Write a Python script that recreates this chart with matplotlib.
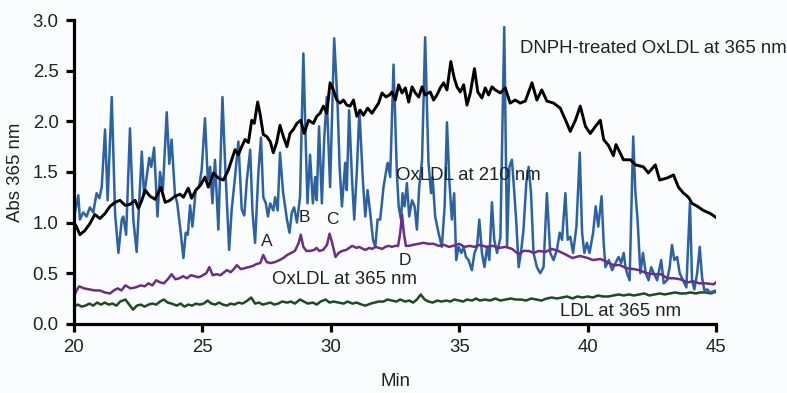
import matplotlib.pyplot as plt

# OxLDL at 210 nm (blue)
blue_x = [20.00, 20.17, 20.23, 20.36, 20.49, 20.62, 20.75, 20.88, 20.99, 21.08, 21.21, 21.31, 21.47, 21.60,
          21.73, 21.86, 21.92, 22.03, 22.18, 22.31, 22.44, 22.64, 22.73, 22.83, 22.93, 23.01, 23.12, 23.25,
          23.35, 23.46, 23.61, 23.71, 23.80, 23.93, 24.02, 24.13, 24.26, 24.35, 24.43, 24.52, 24.61, 24.74,
          24.87, 24.97, 25.10, 25.21, 25.30, 25.39, 25.49, 25.62, 25.78, 25.88, 26.04, 26.14, 26.27, 26.40,
          26.53, 26.63, 26.73, 26.86, 26.95, 27.05, 27.18, 27.28, 27.37, 27.47, 27.55, 27.64, 27.76, 27.83,
          27.93, 28.02, 28.14, 28.22, 28.29, 28.39, 28.48, 28.57, 28.68, 28.80, 28.93, 29.04, 29.09, 29.19,
          29.30, 29.39, 29.45, 29.54, 29.65, 29.74, 29.84, 29.97, 30.13, 30.26, 30.34, 30.43, 30.56, 30.62,
          30.71, 30.82, 30.91, 31.01, 31.11, 31.25, 31.34, 31.43, 31.53, 31.64, 31.73, 31.82, 31.92, 32.05,
          32.18, 32.22, 32.31, 32.44, 32.57, 32.64, 32.73, 32.79, 32.87, 32.96, 33.05, 33.16, 33.26, 33.35,
          33.44, 33.55, 33.67, 33.80, 33.90, 33.96, 34.06, 34.19, 34.32, 34.43, 34.52, 34.61, 34.71, 34.80,
          34.88, 34.97, 35.08, 35.17, 35.26, 35.36, 35.49, 35.59, 35.69, 35.78, 35.88, 35.98, 36.08, 36.17,
          36.27, 36.36, 36.47, 36.60, 36.75, 36.86, 36.95, 37.05, 37.14, 37.22, 37.31, 37.40, 37.50, 37.61,
          37.70, 37.79, 37.89, 38.02, 38.15, 38.28, 38.41, 38.54, 38.67, 38.80, 38.91, 39.00, 39.13, 39.22,
          39.32, 39.43, 39.56, 39.69, 39.78, 39.87, 39.97, 40.07, 40.21, 40.31, 40.41, 40.54, 40.62, 40.69,
          40.82, 40.95, 41.08, 41.20, 41.30, 41.40, 41.47, 41.53, 41.63, 41.77, 41.85, 41.94, 42.05, 42.15,
          42.26, 42.37, 42.47, 42.57, 42.70, 42.86, 42.96, 43.09, 43.19, 43.28, 43.37, 43.48, 43.58, 43.71,
          43.84, 43.98, 44.06, 44.15, 44.26, 44.36, 44.45, 44.54, 44.65, 44.77, 45.00]
blue_y = [1.05, 1.27, 1.03, 1.10, 1.06, 1.15, 1.10, 1.29, 1.24, 1.35, 1.92, 1.22, 2.24, 1.09,
          0.70, 1.03, 1.06, 0.88, 1.93, 1.03, 0.71, 1.70, 1.27, 1.45, 1.64, 1.55, 1.74, 1.06,
          1.50, 1.32, 2.09, 1.58, 1.82, 1.28, 1.19, 0.96, 0.65, 0.90, 0.88, 1.17, 0.96, 1.32,
          1.35, 1.52, 2.03, 1.42, 1.55, 1.19, 1.62, 0.93, 2.24, 1.60, 0.73, 1.13, 1.45, 1.80,
          1.13, 1.07, 1.42, 1.72, 1.10, 0.80, 1.50, 1.84, 1.25, 1.19, 1.06, 1.19, 1.12, 1.25,
          1.12, 1.69, 1.30, 1.16, 1.03, 0.90, 1.10, 1.15, 1.00, 1.25, 2.67, 1.62, 1.19, 1.67,
          1.19, 1.45, 1.22, 1.95, 1.19, 1.82, 2.24, 1.35, 2.82, 2.18, 1.55, 1.16, 1.59, 1.32,
          2.11, 1.45, 1.03, 1.50, 2.11, 1.40, 1.06, 1.32, 1.10, 0.83, 0.76, 1.03, 1.03, 1.35,
          1.55, 1.59, 1.45, 2.56, 1.49, 1.16, 1.03, 1.29, 1.16, 1.39, 1.06, 1.22, 1.16, 0.93,
          1.35, 1.62, 2.83, 1.59, 1.29, 1.45, 1.06, 0.90, 0.76, 1.16, 1.99, 1.42, 1.03, 1.29,
          0.63, 0.76, 0.70, 0.76, 0.66, 0.63, 0.53, 0.70, 0.76, 1.03, 0.70, 0.56, 0.76, 0.63,
          1.20, 0.83, 0.70, 0.85, 2.93, 0.76, 1.55, 1.62, 1.30, 1.00, 0.56, 0.70, 0.93, 1.40,
          1.55, 1.30, 0.70, 0.56, 0.50, 0.56, 1.29, 0.70, 0.63, 0.73, 0.90, 0.83, 1.29, 0.83,
          0.86, 0.70, 0.96, 1.69, 0.90, 0.70, 0.80, 0.70, 0.90, 1.16, 0.96, 1.26, 0.80, 0.56,
          0.63, 0.53, 0.60, 0.66, 0.60, 0.70, 0.56, 0.50, 0.43, 1.85, 1.32, 1.03, 0.50, 0.70,
          0.50, 0.43, 0.56, 0.50, 0.43, 0.63, 0.40, 0.43, 0.56, 0.78, 0.63, 0.66, 0.50, 0.43,
          0.36, 1.20, 0.43, 0.34, 0.50, 0.76, 0.46, 0.33, 0.34, 0.31, 0.33]

# DNPH-treated OxLDL at 365 nm (black)
black_x = [20.00, 20.10, 20.23, 20.42, 20.62, 20.81, 21.01, 21.21, 21.40, 21.60, 21.79, 21.99, 22.18, 22.38,
           22.51, 22.64, 22.77, 22.96, 23.16, 23.38, 23.55, 23.74, 23.93, 24.13, 24.26, 24.45, 24.58, 24.74,
           24.93, 25.10, 25.23, 25.43, 25.62, 25.82, 26.01, 26.14, 26.27, 26.40, 26.53, 26.66, 26.79, 26.92,
           27.02, 27.15, 27.24, 27.37, 27.50, 27.64, 27.76, 27.89, 28.02, 28.15, 28.29, 28.41, 28.54, 28.68,
           28.83, 28.96, 29.13, 29.32, 29.45, 29.58, 29.71, 29.84, 29.97, 30.10, 30.23, 30.36, 30.49, 30.62,
           30.75, 30.88, 31.01, 31.14, 31.27, 31.43, 31.60, 31.73, 31.86, 31.99, 32.15, 32.28, 32.38, 32.51,
           32.64, 32.77, 32.90, 33.03, 33.16, 33.29, 33.42, 33.55, 33.67, 33.87, 34.00, 34.13, 34.26, 34.39,
           34.52, 34.67, 34.80, 34.91, 35.04, 35.17, 35.30, 35.43, 35.59, 35.72, 35.88, 36.01, 36.14, 36.27,
           36.40, 36.60, 36.79, 36.98, 37.18, 37.37, 37.57, 37.83, 38.02, 38.21, 38.41, 38.67, 38.93, 39.19,
           39.32, 39.52, 39.71, 39.91, 40.10, 40.30, 40.49, 40.62, 40.81, 41.00, 41.10, 41.20, 41.39, 41.66,
           41.86, 42.17, 42.36, 42.63, 42.80, 43.09, 43.34, 43.53, 43.73, 43.92, 44.06, 44.27, 44.50, 44.77,
           45.00]
black_y = [1.00, 0.96, 0.88, 0.92, 0.99, 1.08, 1.04, 1.09, 1.16, 1.20, 1.22, 1.17, 1.18, 1.22,
           1.14, 1.22, 1.32, 1.26, 1.23, 1.35, 1.20, 1.22, 1.26, 1.28, 1.25, 1.34, 1.24, 1.32,
           1.37, 1.45, 1.35, 1.49, 1.44, 1.42, 1.52, 1.62, 1.72, 1.67, 1.75, 1.82, 1.79, 2.01,
           1.98, 2.19, 2.08, 1.87, 1.85, 1.80, 1.69, 1.79, 1.96, 1.85, 1.75, 1.88, 1.92, 1.98,
           2.01, 1.88, 2.01, 1.98, 2.05, 2.08, 2.15, 2.08, 2.38, 2.31, 2.21, 2.18, 2.21, 2.16,
           2.15, 2.21, 2.05, 2.11, 2.06, 2.13, 2.08, 2.13, 2.18, 2.28, 2.24, 2.26, 2.29, 2.21,
           2.36, 2.28, 2.33, 2.19, 2.34, 2.28, 2.24, 2.34, 2.26, 2.29, 2.21, 2.26, 2.33, 2.38,
           2.31, 2.59, 2.43, 2.34, 2.29, 2.36, 2.16, 2.28, 2.52, 2.29, 2.23, 2.33, 2.26, 2.34,
           2.31, 2.28, 2.33, 2.18, 2.21, 2.18, 2.20, 2.38, 2.21, 2.31, 2.20, 2.18, 2.13, 1.98,
           1.90, 2.01, 2.15, 1.95, 1.88, 1.95, 2.01, 1.82, 1.76, 1.66, 1.77, 1.72, 1.62, 1.62,
           1.57, 1.55, 1.49, 1.57, 1.42, 1.44, 1.47, 1.35, 1.29, 1.25, 1.19, 1.16, 1.12, 1.09,
           1.05]

# OxLDL at 365 nm (purple)
purple_x = [20.00, 20.10, 20.20, 20.40, 20.60, 20.80, 21.00, 21.20, 21.40, 21.55, 21.70, 21.85, 22.00, 22.20,
            22.40, 22.60, 22.75, 22.90, 23.05, 23.20, 23.35, 23.50, 23.65, 23.80, 23.95, 24.10, 24.25, 24.40,
            24.55, 24.70, 24.85, 24.95, 25.15, 25.27, 25.40, 25.55, 25.70, 25.85, 25.95, 26.10, 26.22, 26.34,
            26.50, 26.65, 26.80, 26.95, 27.10, 27.25, 27.37, 27.50, 27.65, 27.83, 28.00, 28.15, 28.30, 28.45,
            28.60, 28.75, 28.83, 28.93, 29.05, 29.20, 29.35, 29.44, 29.55, 29.70, 29.85, 29.95, 30.05, 30.18,
            30.30, 30.44, 30.60, 30.83, 31.00, 31.10, 31.25, 31.35, 31.50, 31.60, 31.75, 31.86, 32.00, 32.12,
            32.25, 32.38, 32.50, 32.62, 32.70, 32.77, 32.84, 32.92, 33.05, 33.20, 33.40, 33.60, 33.80, 34.00,
            34.20, 34.40, 34.60, 34.76, 35.00, 35.20, 35.40, 35.60, 35.80, 36.05, 36.30, 36.55, 36.80, 37.05,
            37.30, 37.50, 37.70, 37.90, 38.10, 38.35, 38.60, 38.85, 39.10, 39.40, 39.70, 40.00, 40.20, 40.50,
            40.76, 41.00, 41.25, 41.50, 41.80, 42.00, 42.30, 42.60, 42.85, 43.10, 43.35, 43.60, 43.90, 44.10,
            44.35, 44.60, 44.90, 45.00]
purple_y = [0.27, 0.33, 0.37, 0.35, 0.34, 0.33, 0.33, 0.31, 0.30, 0.33, 0.35, 0.33, 0.38, 0.35,
            0.36, 0.38, 0.37, 0.40, 0.38, 0.43, 0.41, 0.40, 0.44, 0.49, 0.44, 0.45, 0.47, 0.45,
            0.48, 0.47, 0.46, 0.47, 0.50, 0.56, 0.48, 0.49, 0.48, 0.51, 0.53, 0.51, 0.54, 0.58,
            0.54, 0.55, 0.56, 0.57, 0.59, 0.60, 0.68, 0.61, 0.60, 0.61, 0.63, 0.65, 0.68, 0.70,
            0.72, 0.80, 0.88, 0.76, 0.72, 0.72, 0.73, 0.75, 0.72, 0.73, 0.78, 0.89, 0.80, 0.66,
            0.70, 0.72, 0.73, 0.77, 0.75, 0.76, 0.74, 0.73, 0.75, 0.74, 0.76, 0.75, 0.74, 0.76,
            0.77, 0.76, 0.77, 0.77, 0.90, 1.08, 0.90, 0.77, 0.77, 0.78, 0.79, 0.80, 0.79, 0.79,
            0.77, 0.78, 0.76, 0.77, 0.79, 0.76, 0.77, 0.76, 0.78, 0.76, 0.77, 0.75, 0.76, 0.74,
            0.69, 0.72, 0.72, 0.70, 0.72, 0.71, 0.74, 0.72, 0.69, 0.65, 0.67, 0.65, 0.63, 0.64,
            0.61, 0.58, 0.58, 0.55, 0.54, 0.53, 0.50, 0.49, 0.49, 0.45, 0.45, 0.44, 0.41, 0.42,
            0.40, 0.40, 0.39, 0.41]

# LDL at 365 nm (green)
green_x = [20.00, 20.15, 20.30, 20.45, 20.60, 20.75, 20.90, 21.05, 21.20, 21.35, 21.50, 21.65, 21.80, 22.00,
           22.15, 22.30, 22.45, 22.60, 22.75, 22.90, 23.05, 23.20, 23.35, 23.50, 23.65, 23.80, 24.00, 24.15,
           24.30, 24.45, 24.60, 24.75, 24.90, 25.05, 25.20, 25.35, 25.50, 25.65, 25.80, 25.95, 26.10, 26.25,
           26.40, 26.55, 26.70, 26.90, 27.05, 27.20, 27.35, 27.50, 27.65, 27.80, 27.95, 28.10, 28.30, 28.45,
           28.60, 28.80, 28.95, 29.10, 29.30, 29.45, 29.60, 29.80, 29.95, 30.10, 30.30, 30.50, 30.65, 30.84,
           31.00, 31.20, 31.35, 31.55, 31.70, 31.86, 32.05, 32.20, 32.38, 32.55, 32.70, 32.90, 33.05, 33.20,
           33.35, 33.50, 33.65, 33.80, 33.96, 34.15, 34.30, 34.50, 34.65, 34.80, 35.00, 35.15, 35.30, 35.50,
           35.65, 35.80, 36.00, 36.20, 36.40, 36.60, 36.80, 37.00, 37.20, 37.40, 37.60, 37.80, 38.00, 38.20,
           38.40, 38.60, 38.80, 39.00, 39.20, 39.40, 39.60, 39.80, 40.00, 40.20, 40.40, 40.60, 40.80, 41.00,
           41.20, 41.40, 41.60, 41.80, 42.00, 42.20, 42.40, 42.60, 42.80, 43.00, 43.20, 43.40, 43.60, 43.80,
           44.00, 44.20, 44.40, 44.60, 44.80, 45.00]
green_y = [0.17, 0.19, 0.17, 0.18, 0.20, 0.18, 0.21, 0.19, 0.21, 0.19, 0.20, 0.18, 0.22, 0.24,
           0.19, 0.14, 0.18, 0.19, 0.17, 0.19, 0.20, 0.19, 0.22, 0.24, 0.21, 0.20, 0.18, 0.20,
           0.17, 0.19, 0.18, 0.20, 0.19, 0.20, 0.23, 0.20, 0.19, 0.21, 0.19, 0.18, 0.20, 0.19,
           0.21, 0.20, 0.22, 0.26, 0.20, 0.21, 0.19, 0.20, 0.21, 0.19, 0.20, 0.22, 0.21, 0.22,
           0.20, 0.24, 0.22, 0.20, 0.21, 0.19, 0.22, 0.24, 0.21, 0.22, 0.21, 0.20, 0.22, 0.20,
           0.21, 0.19, 0.18, 0.20, 0.21, 0.22, 0.22, 0.24, 0.23, 0.22, 0.24, 0.22, 0.23, 0.21,
           0.24, 0.29, 0.24, 0.22, 0.21, 0.23, 0.22, 0.23, 0.22, 0.24, 0.23, 0.22, 0.24, 0.23,
           0.25, 0.23, 0.24, 0.23, 0.25, 0.23, 0.24, 0.25, 0.24, 0.24, 0.23, 0.25, 0.24, 0.23,
           0.25, 0.26, 0.25, 0.26, 0.27, 0.25, 0.27, 0.26, 0.27, 0.26, 0.28, 0.27, 0.27, 0.28,
           0.29, 0.28, 0.29, 0.28, 0.29, 0.30, 0.28, 0.29, 0.30, 0.29, 0.30, 0.31, 0.30, 0.30,
           0.31, 0.30, 0.31, 0.31, 0.30, 0.32]

# peak letters on the OxLDL 365 nm trace
peak_labels = ["A", "B", "C", "D"]
peak_x = [27.52, 28.96, 30.05, 32.90]
peak_y = [0.81, 1.05, 1.03, 0.63]

plt.rcParams['font.family'] = ['Liberation Sans', 'DejaVu Sans']

fig = plt.figure(figsize=(7.87, 3.93), dpi=100)
fig.patch.set_facecolor('#fbfcfe')
ax = fig.add_axes([0.094, 0.176, 0.816, 0.773])
ax.set_facecolor('#fbfcfe')

ax.plot(green_x, green_y, color='#1d4a22', lw=1.8, solid_joinstyle='round')
ax.plot(blue_x, blue_y, color='#2c62a3', lw=1.8, solid_joinstyle='round')
ax.plot(purple_x, purple_y, color='#6b2d86', lw=1.8, solid_joinstyle='round')
ax.plot(black_x, black_y, color='black', lw=2.1, solid_joinstyle='round')

for lab, px, py in zip(peak_labels, peak_x, peak_y):
    ax.text(px, py, lab, fontsize=12.5, color='#222222', ha='center', va='center')

ax.text(37.37, 2.72, "DNPH-treated OxLDL at 365 nm", fontsize=13.4, color='#222222', va='center')
ax.text(32.54, 1.46, "OxLDL at 210 nm", fontsize=13.4, color='#222222', va='center')
ax.text(27.71, 0.44, "OxLDL at 365 nm", fontsize=13.4, color='#222222', va='center')
ax.text(38.93, 0.12, "LDL at 365 nm", fontsize=13.4, color='#222222', va='center')

ax.set_xlim(20, 45)
ax.set_ylim(0, 3.0)
ax.set_xticks([20, 25, 30, 35, 40, 45])
ax.set_yticks([0.0, 0.5, 1.0, 1.5, 2.0, 2.5, 3.0])
ax.set_yticklabels(["0.0", "0.5", "1.0", "1.5", "2.0", "2.5", "3.0"])
for s in ['top', 'right']:
    ax.spines[s].set_visible(False)
for s in ['left', 'bottom']:
    ax.spines[s].set_linewidth(2.3)
ax.tick_params(direction='out', length=6, width=2.3, labelsize=13.4, labelcolor='#222222', pad=5)
ax.set_xlabel("Min", fontsize=13.4, color='#222222', labelpad=12)
ax.set_ylabel("Abs 365 nm", fontsize=13.4, color='#222222', labelpad=6)

fig.savefig("out.png", dpi=100, facecolor=fig.get_facecolor())
